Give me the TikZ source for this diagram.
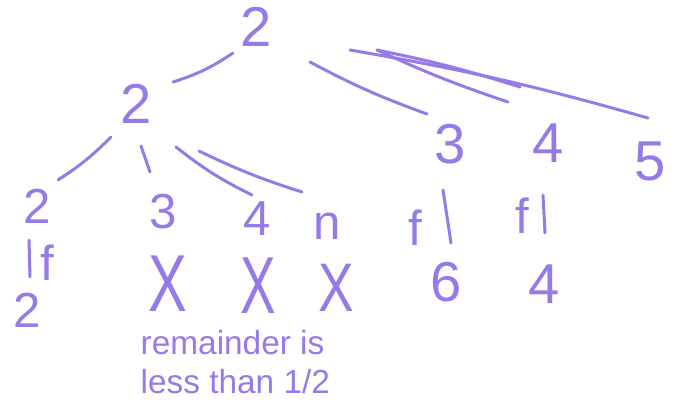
\documentclass[tikz,border=0pt]{standalone}
\usepackage{fontspec}
\setmainfont{Liberation Sans}
\usepackage{xcolor}
\usepackage{tikz}

\definecolor{pen}{RGB}{150,122,232}

\begin{document}
\begin{tikzpicture}[
  every node/.style={text=pen, inner sep=0pt},
  big/.style={font=\fontsize{16}{16}\selectfont},
  small/.style={font=\fontsize{14}{14}\selectfont},
  flabel/.style={font=\fontsize{14}{14}\selectfont},
  cross/.style={font=\fontsize{23}{23}\selectfont},
  note/.style={font=\fontsize{9.5}{11}\selectfont, align=left},
  stroke/.style={draw=pen, line width=0.85pt, line cap=round},
]
\useasboundingbox (0,0) rectangle (6.75,-4.07);

% Root
\node[big] (root) at (2.56,-0.27) {2};

% Second level
\node[big] (l2) at (1.36,-1.04) {2};
\node[big] (r3) at (4.50,-1.44) {3};
\node[big] (r4) at (5.48,-1.43) {4};
\node[big] (r5) at (6.50,-1.61) {5};

% Third level under left 2
\node[small] (a2) at (0.37,-2.06) {2};
\node[small] (a3) at (1.63,-2.12) {3};
\node[small] (a4) at (2.57,-2.19) {4};
\node[small] (an) at (3.27,-2.26) {n};

% Bottom row
\node[small] (a2b) at (0.27,-3.10) {2};
\node[cross] (xa) at (1.68,-2.84) {\scalebox{0.72}[1]{X}};
\node[cross] (xb) at (2.58,-2.86) {\scalebox{0.66}[1]{X}};
\node[cross] (xc) at (3.36,-2.88) {\scalebox{0.66}[0.85]{X}};
\node[big] (b6) at (4.46,-2.82) {6};
\node[big] (b4) at (5.44,-2.84) {4};

% f labels
\node[flabel] (fa) at (0.47,-2.63) {f};
\node[flabel] (fb) at (4.15,-2.28) {f};
\node[flabel] (fc) at (5.22,-2.16) {f};

% Note
\node[note, anchor=north west] (note) at (1.40,-3.30)
  {remainder is \\ less than 1/2};

% Strokes from root
\draw[stroke] ([shift={(-0.23,-0.26)}]root.center) to[bend left=8] ([shift={(0.37,0.22)}]l2.center);
\draw[stroke] ([shift={(0.54,-0.35)}]root.center) to[bend right=4] ([shift={(-0.23,0.30)}]r3.center);
\draw[stroke] ([shift={(1.21,-0.23)}]root.center) to[bend right=3] ([shift={(-0.40,0.41)}]r4.center);
\draw[stroke] ([shift={(0.94,-0.23)}]root.center) to[bend left=3] ([shift={(-0.02,0.43)}]r5.center);
\draw[stroke] ([shift={(1.21,-0.23)}]root.center) to[bend left=3] ([shift={(-1.30,0.74)}]r5.center);

% Strokes from left 2
\draw[stroke] ([shift={(-0.25,-0.33)}]l2.center) to[bend left=6] ([shift={(0.21,0.26)}]a2.center);
\draw[stroke] ([shift={(0.05,-0.42)}]l2.center) -- ([shift={(-0.13,0.40)}]a3.center);
\draw[stroke] ([shift={(0.40,-0.43)}]l2.center) to[bend right=6] ([shift={(-0.05,0.24)}]a4.center);
\draw[stroke] ([shift={(0.63,-0.47)}]l2.center) to[bend right=4] ([shift={(-0.25,0.34)}]an.center);

% Vertical f strokes
\draw[stroke] ([shift={(-0.08,-0.34)}]a2.center) -- ([shift={(0.03,0.33)}]a2b.center);
\draw[stroke] ([shift={(-0.07,-0.46)}]r3.center) -- ([shift={(0.05,0.39)}]b6.center);
\draw[stroke] ([shift={(-0.05,-0.52)}]r4.center) -- ([shift={(0.01,0.51)}]b4.center);

\end{tikzpicture}
\end{document}
